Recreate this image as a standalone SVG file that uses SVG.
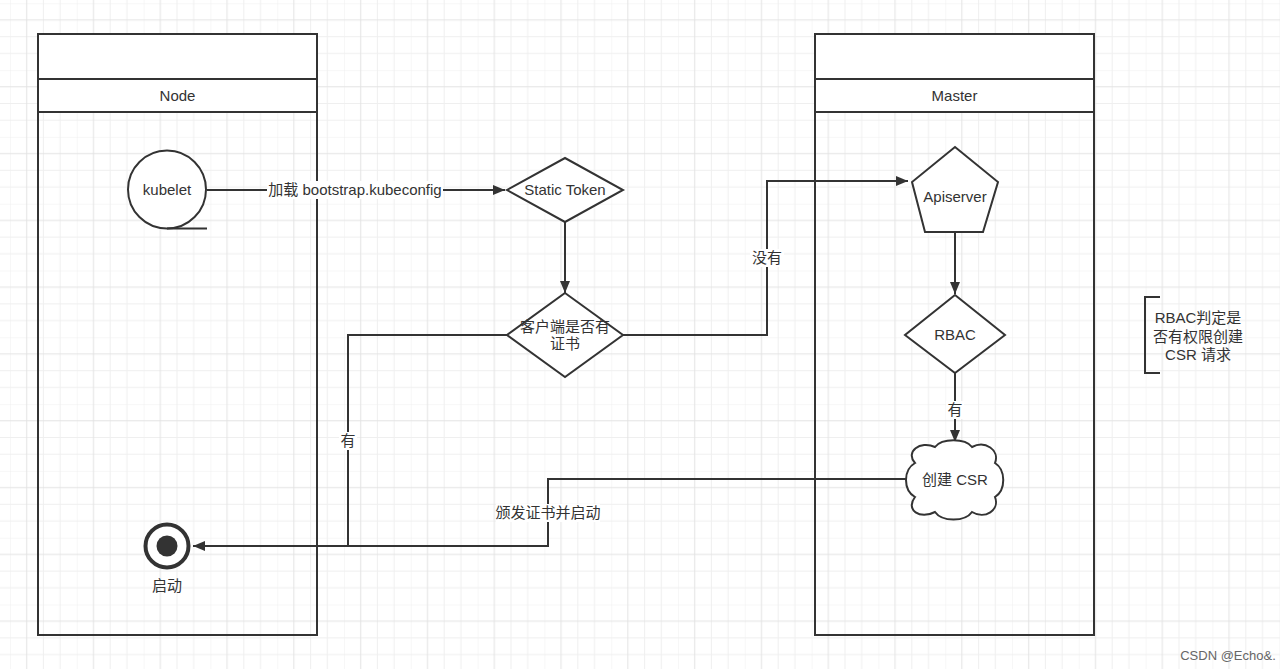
<svg xmlns="http://www.w3.org/2000/svg" width="1280" height="669" viewBox="0 0 1280 669">
<defs>
<pattern id="grid" patternUnits="userSpaceOnUse" x="10" y="3.3" width="66.8" height="66.8">
<path d="M0 0V66.8M33.4 0V66.8M50.1 0V66.8M0 0H66.8M0 33.4H66.8M0 50.1H66.8" stroke="#efefef" stroke-width="1" fill="none"/>
<path d="M16.7 0V66.8M0 16.7H66.8" stroke="#e3e3e3" stroke-width="1" fill="none"/>
</pattern>
<marker id="arr" viewBox="0 0 12 10" refX="12" refY="5" markerWidth="12" markerHeight="10" markerUnits="userSpaceOnUse" orient="auto">
<path d="M0 0L12 5L0 10Z" fill="#333"/>
</marker>
<style>
.s{fill:none;stroke:#333;stroke-width:2}
.w{fill:#fff;stroke:#333;stroke-width:2}
.t{font-family:"Liberation Sans","Noto Sans CJK SC",sans-serif;font-size:15px;fill:#333;text-anchor:middle}
.lbl{fill:#fff}
</style>
</defs>
<rect width="1280" height="669" fill="#fff"/>
<rect width="1280" height="669" fill="url(#grid)"/>

<g id="lane-node">
<rect class="s" x="38" y="34" width="279" height="601"/>
<rect class="w" x="38" y="34" width="279" height="45"/>
<rect class="w" x="38" y="79" width="279" height="33"/>
<text class="t" x="177.5" y="101">Node</text>
</g>
<g id="lane-master">
<rect class="s" x="815" y="34" width="279" height="601"/>
<rect class="w" x="815" y="34" width="279" height="45"/>
<rect class="w" x="815" y="79" width="279" height="33"/>
<text class="t" x="954.5" y="101">Master</text>
</g>

<g id="connectors">
<path class="s" d="M207 190H505" marker-end="url(#arr)"/>
<rect class="lbl" x="267" y="181" width="176" height="18"/>
<text class="t" x="355" y="195">加载 bootstrap.kubeconfig</text>
<path class="s" d="M565 222V293" marker-end="url(#arr)"/>
<path class="s" d="M623 335H767V181H908" marker-end="url(#arr)"/>
<rect class="lbl" x="750" y="249" width="34" height="18"/>
<text class="t" x="767" y="263">没有</text>
<path class="s" d="M955 232V294" marker-end="url(#arr)"/>
<path class="s" d="M955 373V442" marker-end="url(#arr)"/>
<rect class="lbl" x="946" y="401" width="18" height="18"/>
<text class="t" x="955" y="415">有</text>
<path class="s" d="M507 335H348V546"/>
<rect class="lbl" x="339" y="432" width="18" height="18"/>
<text class="t" x="348" y="446">有</text>
<path class="s" d="M906 479H548V546H193" marker-end="url(#arr)"/>
<rect class="lbl" x="496" y="504" width="104" height="18"/>
<text class="t" x="548" y="518">颁发证书并启动</text>
</g>

<g id="kubelet">
<circle class="w" cx="167" cy="189.5" r="39"/>
<path class="s" d="M167 228.5H207"/>
<text class="t" x="167" y="195">kubelet</text>
</g>
<g id="static-token">
<path class="w" d="M565 158L623 190L565 222L507 190Z"/>
<text class="t" x="565" y="195">Static Token</text>
</g>
<g id="has-cert">
<path class="w" d="M565 293L623 335L565 377L507 335Z"/>
<text class="t" x="565" y="332">客户端是否有</text>
<text class="t" x="565" y="349">证书</text>
</g>
<g id="apiserver">
<path class="w" d="M955 147L998 182L983 232L925 232L912 182Z"/>
<text class="t" x="955" y="202">Apiserver</text>
</g>
<g id="rbac">
<path class="w" d="M955 295L1005 335L955 373L905 335Z"/>
<text class="t" x="955" y="340">RBAC</text>
</g>
<g id="create-csr">
<path class="w" d="M915 463C905 452 920 440 935 447C942 438 965 438 972 447C985 440 1000 450 995 463C1006 470 1006 490 995 497C1000 510 985 520 972 512C965 522 942 522 935 512C920 520 905 510 915 497C903 490 903 470 915 463Z"/>
<text class="t" x="955" y="485">创建 CSR</text>
</g>
<g id="start">
<circle cx="167" cy="546" r="21.5" fill="#fff" stroke="#333" stroke-width="4"/>
<circle cx="167" cy="546" r="10.5" fill="#333"/>
<text class="t" x="167" y="591">启动</text>
</g>
<g id="annotation">
<path class="s" d="M1160 297H1145V373H1160"/>
<text class="t" x="1198" y="323">RBAC判定是</text>
<text class="t" x="1198" y="342">否有权限创建</text>
<text class="t" x="1198" y="360">CSR 请求</text>
</g>
<text x="1228" y="660" style="font-family:'Liberation Sans','Noto Sans CJK SC',sans-serif;font-size:13px;fill:#666;text-anchor:middle">CSDN @Echo&amp;.</text>
</svg>
